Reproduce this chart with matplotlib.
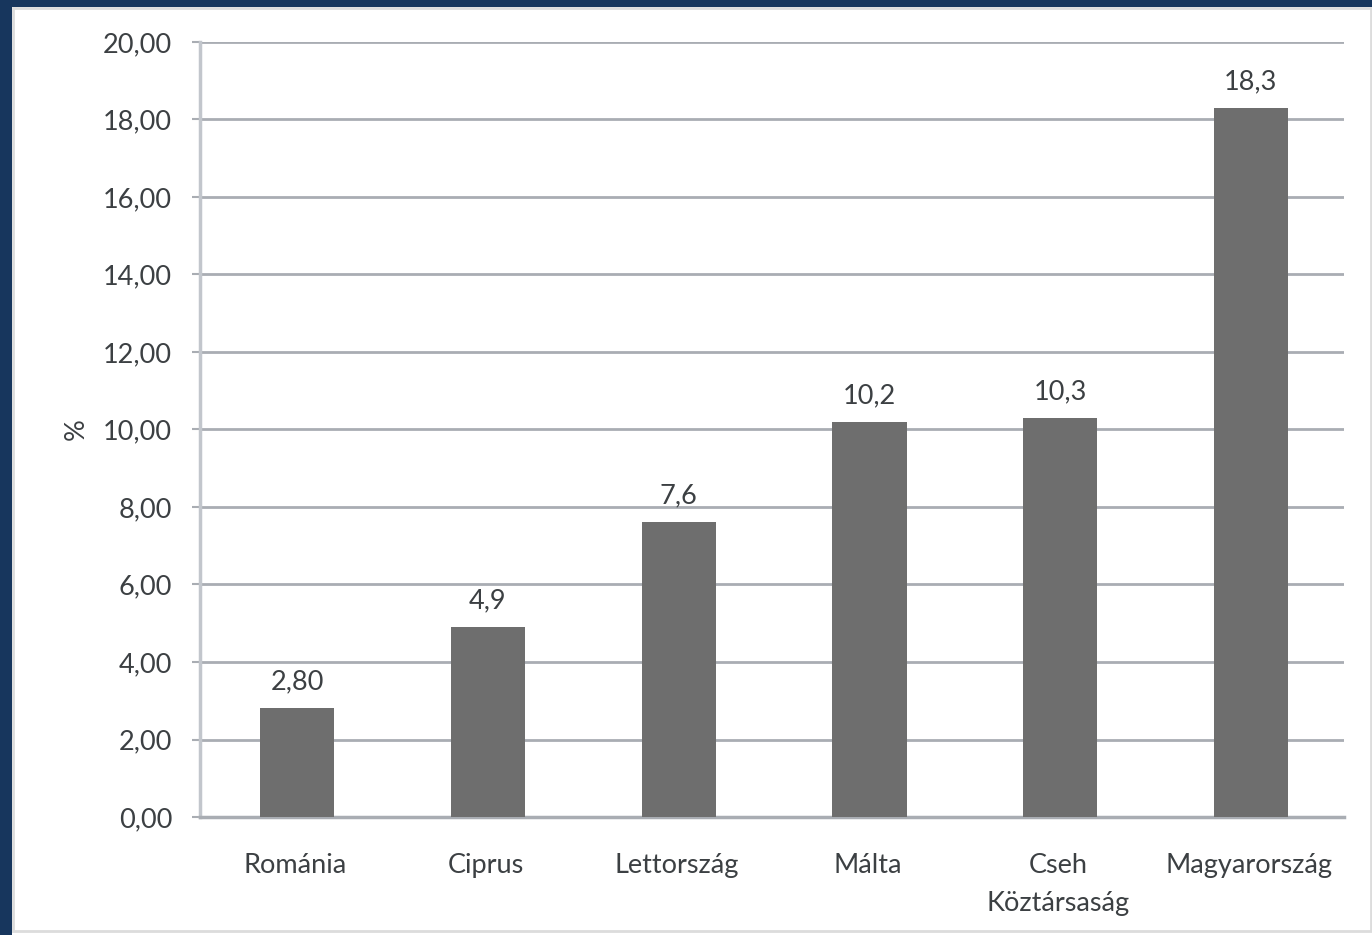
import matplotlib.pyplot as plt
from matplotlib.patches import Rectangle

countries = ["Románia", "Ciprus", "Lettország", "Málta", "Cseh\nKöztársaság", "Magyarország"]
values = [2.8, 4.9, 7.6, 10.2, 10.3, 18.3]
decimals = [2, 1, 1, 1, 1, 1]
yticks = [0, 2, 4, 6, 8, 10, 12, 14, 16, 18, 20]

navy = "#17365d"
text_color = "#3c4043"
grid_color = "#a9adb3"
fs = 19.5

plt.rcParams["font.family"] = ["Lato", "DejaVu Sans"]

fig = plt.figure(figsize=(13.72, 9.35), dpi=100)
ax = fig.add_axes([0.1458, 0.1262, 0.834, 0.8289])

# frame of the slide around the chart
fig.patches.append(Rectangle((0, 0), 12 / 1372, 1, transform=fig.transFigure,
                             facecolor=navy, edgecolor="none", zorder=0))
fig.patches.append(Rectangle((0, 1 - 7 / 935), 1, 7 / 935, transform=fig.transFigure,
                             facecolor=navy, edgecolor="none", zorder=0))
fig.patches.append(Rectangle((13 / 1372, 4 / 935), 1 - 14 / 1372, 1 - 12 / 935,
                             transform=fig.transFigure, facecolor="none",
                             edgecolor="#dcdcdc", linewidth=2, zorder=0))

x = range(len(countries))
bars = ax.bar([i + 0.01 for i in x], values, width=0.39, color="#6e6e6e", zorder=3)
for b, v, d in zip(bars, values, decimals):
    ax.annotate(f"{v:.{d}f}".replace(".", ","), (b.get_x() + b.get_width() / 2, v),
                xytext=(0, 10), textcoords="offset points", ha="center", va="bottom",
                fontsize=fs, color=text_color)

ax.set_xlim(-0.5, len(countries) - 0.5)
ax.set_ylim(0, 20)
ax.set_yticks(yticks)
ax.set_yticklabels([f"{t:.2f}".replace(".", ",") for t in yticks])
ax.set_xticks(list(x))
ax.set_xticklabels(countries, linespacing=1.65)
ax.tick_params(axis="y", length=6, width=1.5, color=grid_color, pad=14,
               labelsize=fs, labelcolor=text_color)
ax.tick_params(axis="x", length=0, pad=26, labelsize=fs, labelcolor=text_color)
ax.set_ylabel("%", fontsize=fs, color=text_color, labelpad=10)

ax.grid(True, axis="y", color=grid_color, linewidth=2, zorder=0)
for side in ["top", "right"]:
    ax.spines[side].set_visible(False)
ax.spines["left"].set_color("#c2c6cc")
ax.spines["left"].set_linewidth(2.5)
ax.spines["bottom"].set_color(grid_color)
ax.spines["bottom"].set_linewidth(2.5)

fig.savefig("out.png", dpi=100)
